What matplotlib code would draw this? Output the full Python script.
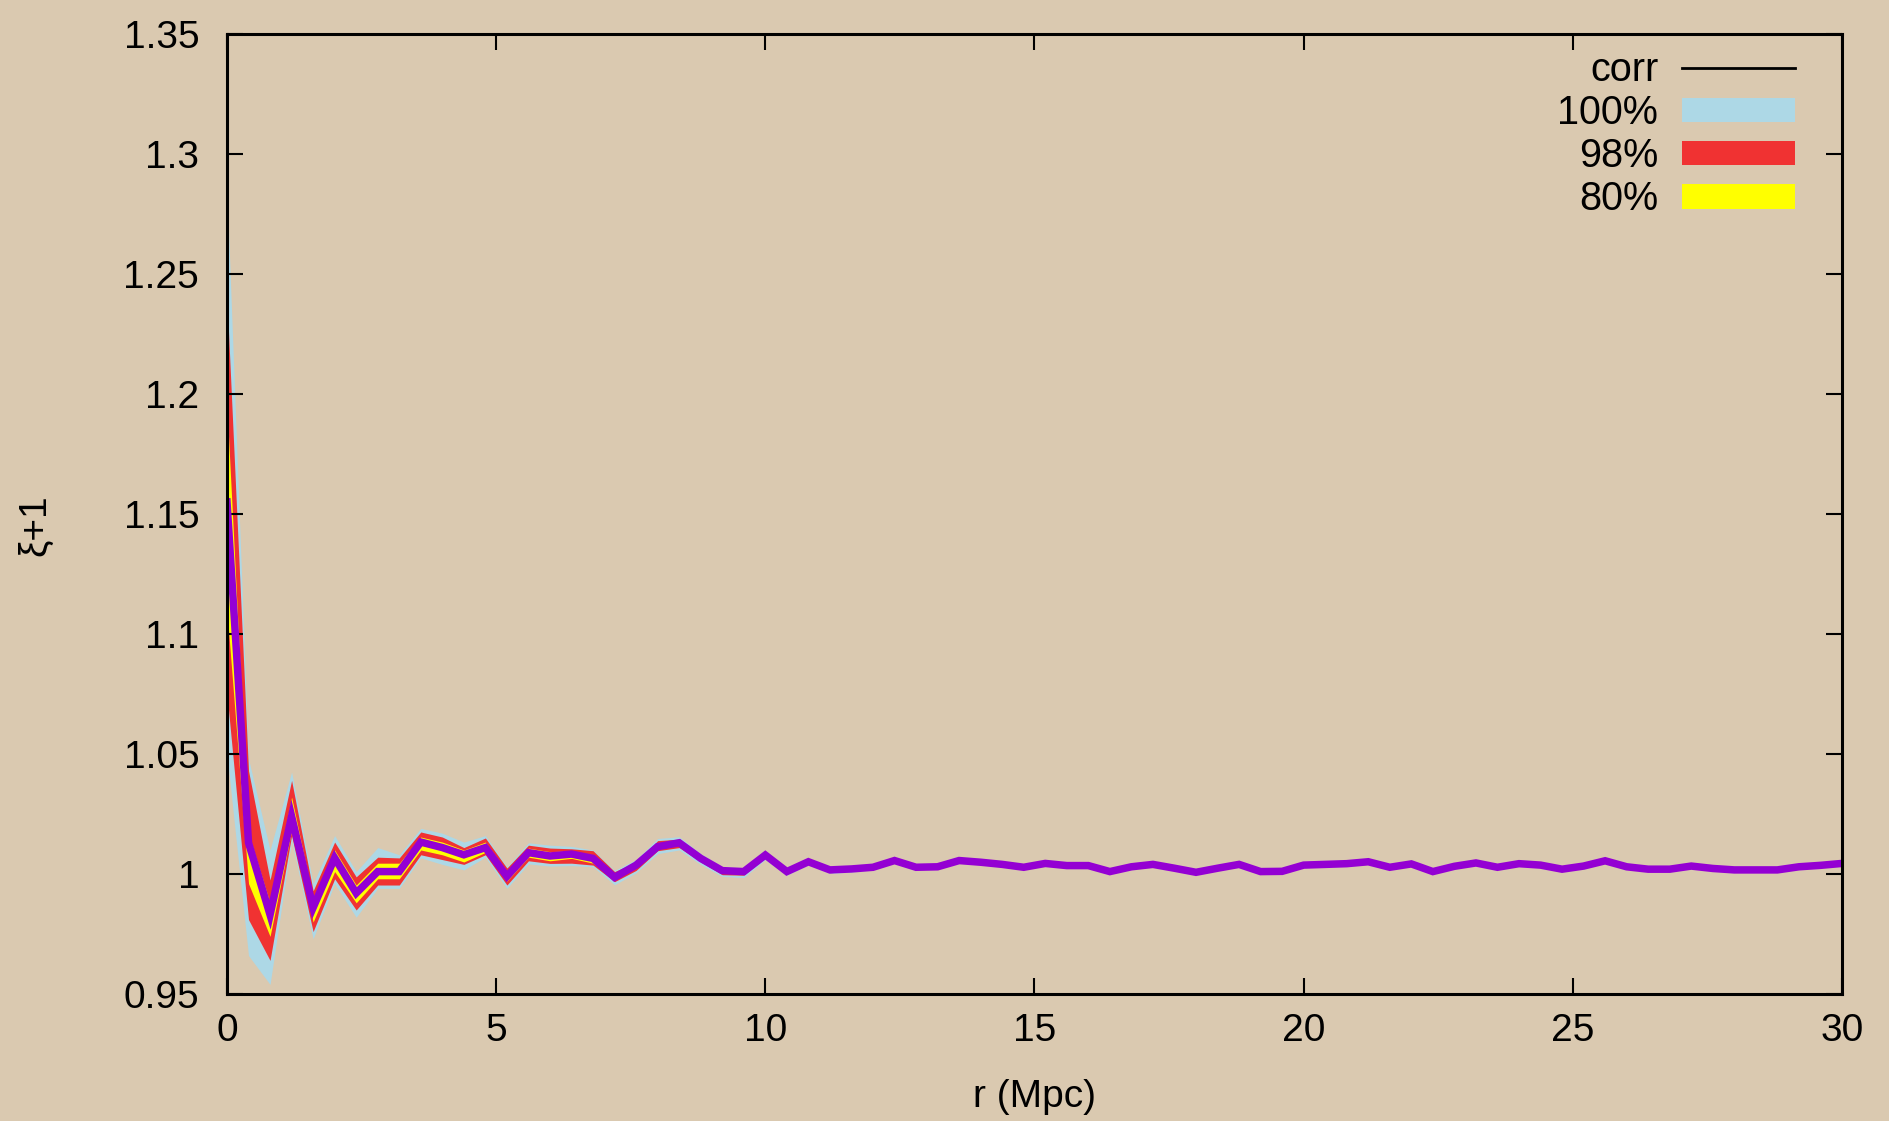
import numpy as np
import matplotlib
matplotlib.use("Agg")
from matplotlib import pyplot as plt
from matplotlib.lines import Line2D
from matplotlib.patches import Patch

plt.rcParams["font.family"] = ["Liberation Sans", "DejaVu Sans"]

# separation bins (Mpc)
r = [0.0, 0.4, 0.8, 1.2, 1.6, 2.0, 2.4, 2.8, 3.2, 3.6,
     4.0, 4.4, 4.8, 5.2, 5.6, 6.0, 6.4, 6.8, 7.2, 7.6,
     8.0, 8.4, 8.8, 9.2, 9.6, 10.0, 10.4, 10.8, 11.2, 11.6,
     12.0, 12.4, 12.8, 13.2, 13.6, 14.0, 14.4, 14.8, 15.2, 15.6,
     16.0, 16.4, 16.8, 17.2, 17.6, 18.0, 18.4, 18.8, 19.2, 19.6,
     20.0, 20.4, 20.8, 21.2, 21.6, 22.0, 22.4, 22.8, 23.2, 23.6,
     24.0, 24.4, 24.8, 25.2, 25.6, 26.0, 26.4, 26.8, 27.2, 27.6,
     28.0, 28.4, 28.8, 29.2, 29.6, 30.0]

# measured correlation xi+1
corr = [1.155, 1.013, 0.983, 1.024, 0.986, 1.0067, 0.992, 1.001, 1.001, 1.0133,
        1.011, 1.008, 1.011, 0.999, 1.0089, 1.0075, 1.0083, 1.0065, 0.9986, 1.0037,
        1.0114, 1.013, 1.0065, 1.0014, 1.001, 1.0079, 1.001, 1.0051, 1.0017, 1.0021,
        1.0028, 1.0056, 1.0028, 1.003, 1.0056, 1.0049, 1.004, 1.0028, 1.0044, 1.0035,
        1.0035, 1.001, 1.003, 1.004, 1.0024, 1.0007, 1.0024, 1.004, 1.001, 1.0011,
        1.0037, 1.004, 1.0043, 1.0051, 1.0028, 1.0042, 1.001, 1.0032, 1.0046, 1.0028,
        1.0043, 1.0037, 1.002, 1.0033, 1.0055, 1.003, 1.002, 1.002, 1.0033, 1.0023,
        1.0017, 1.0017, 1.0017, 1.003, 1.0036, 1.0044]

# envelopes from the random catalogues, first 31 bins (r <= 12)
band100_lo = [1.05, 0.966, 0.954, 1.014, 0.973, 0.996, 0.982, 0.994, 0.994, 1.0067,
              1.004, 1.0017, 1.007, 0.994, 1.0042, 1.0033, 1.0035, 1.003, 0.9955, 1.0005,
              1.0085, 1.010, 1.004, 0.999, 0.9985, 1.006, 0.9995, 1.0038, 1.0002, 1.0008,
              1.0018]
band100_hi = [1.285, 1.048, 1.010, 1.0425, 0.996, 1.016, 1.001, 1.011, 1.008, 1.019,
              1.017, 1.0133, 1.016, 1.003, 1.013, 1.012, 1.0115, 1.010, 1.0015, 1.006,
              1.0148, 1.0155, 1.0085, 1.003, 1.0025, 1.0095, 1.0025, 1.0065, 1.0032, 1.0034,
              1.0038]
band98_lo = [1.075, 0.981, 0.964, 1.016, 0.976, 0.998, 0.985, 0.9954, 0.9954, 1.008,
             1.006, 1.004, 1.008, 0.9954, 1.0055, 1.0044, 1.0045, 1.0037, 0.9968, 1.0015,
             1.0097, 1.011, 1.005, 0.9997, 0.9995, 1.0068, 1.0002, 1.0043, 1.0005, 1.0012,
             1.002]
band98_hi = [1.24, 1.043, 0.9975, 1.039, 0.993, 1.0133, 0.9988, 1.007, 1.0067, 1.0175,
             1.0154, 1.011, 1.015, 1.0025, 1.012, 1.0108, 1.0105, 1.0097, 1.001, 1.005,
             1.0139, 1.0145, 1.008, 1.0025, 1.002, 1.009, 1.002, 1.006, 1.0027, 1.003,
             1.0035]
band80_lo = [1.11, 0.996, 0.974, 1.018, 0.980, 1.001, 0.988, 0.998, 0.998, 1.010,
             1.008, 1.005, 1.009, 0.997, 1.007, 1.0055, 1.0065, 1.0045, 0.998, 1.003,
             1.011, 1.0125, 1.006, 1.001, 1.0005, 1.0075, 1.0007, 1.0048, 1.0013, 1.0018,
             1.0025]
band80_hi = [1.195, 1.017, 0.988, 1.032, 0.990, 1.010, 0.9954, 1.0045, 1.0045, 1.0154,
             1.0133, 1.010, 1.0133, 1.001, 1.0108, 1.0093, 1.0097, 1.008, 0.9995, 1.0045,
             1.012, 1.0135, 1.007, 1.002, 1.0015, 1.0083, 1.0013, 1.0054, 1.002, 1.0024,
             1.003]

xticks = [0, 5, 10, 15, 20, 25, 30]
yticks = [0.95, 1.0, 1.05, 1.1, 1.15, 1.2, 1.25, 1.3, 1.35]
ytick_labels = ["0.95", "1", "1.05", "1.1", "1.15", "1.2", "1.25", "1.3", "1.35"]

bg = "#dac9b0"
c100 = "#add8e6"
c98 = "#f03232"
c80 = "#ffff00"
cline = "#9400d3"

fig = plt.figure(figsize=(18.9, 11.21), dpi=100, facecolor=bg)
ax = fig.add_axes([0.1201, 0.1133, 0.8545, 0.8564])
ax.set_facecolor(bg)

nb = len(band100_lo)
ax.fill_between(r[:nb], band100_lo, band100_hi, color=c100, lw=0)
ax.fill_between(r[:nb], band98_lo, band98_hi, color=c98, lw=0)
ax.fill_between(r[:nb], band80_lo, band80_hi, color=c80, lw=0)
ax.plot(r, corr, color=cline, lw=5.4, solid_joinstyle="miter")

ax.set_xlim(0, 30)
ax.set_ylim(0.95, 1.35)
ax.set_xticks(xticks)
ax.set_yticks(yticks)
ax.set_yticklabels(ytick_labels)
ax.tick_params(direction="in", length=11.5, width=1.5, labelsize=28,
               top=True, right=True)
ax.tick_params(axis="x", pad=14)
ax.tick_params(axis="y", pad=20)
for s in ax.spines.values():
    s.set_linewidth(2.2)

ax.set_xlabel("r (Mpc)", fontsize=28)
ax.xaxis.set_label_coords(0.5, -0.089)
ax.set_ylabel("ξ+1", fontsize=28)
ax.yaxis.set_label_coords(-0.1077, 0.488)

handles = [Line2D([], [], color="black", lw=2),
           Patch(facecolor=c100, edgecolor="none"),
           Patch(facecolor=c98, edgecolor="none"),
           Patch(facecolor=c80, edgecolor="none")]
labels = ["corr", "100%", "98%", "80%"]
ax.legend(handles, labels, loc="upper right", frameon=False, markerfirst=False,
          fontsize=28.5, handlelength=2.85, handleheight=0.58, handletextpad=0.6,
          labelspacing=0.13, borderaxespad=0.0, bbox_to_anchor=(0.9806, 0.999))

fig.savefig("out.png", dpi=100, facecolor=bg)
